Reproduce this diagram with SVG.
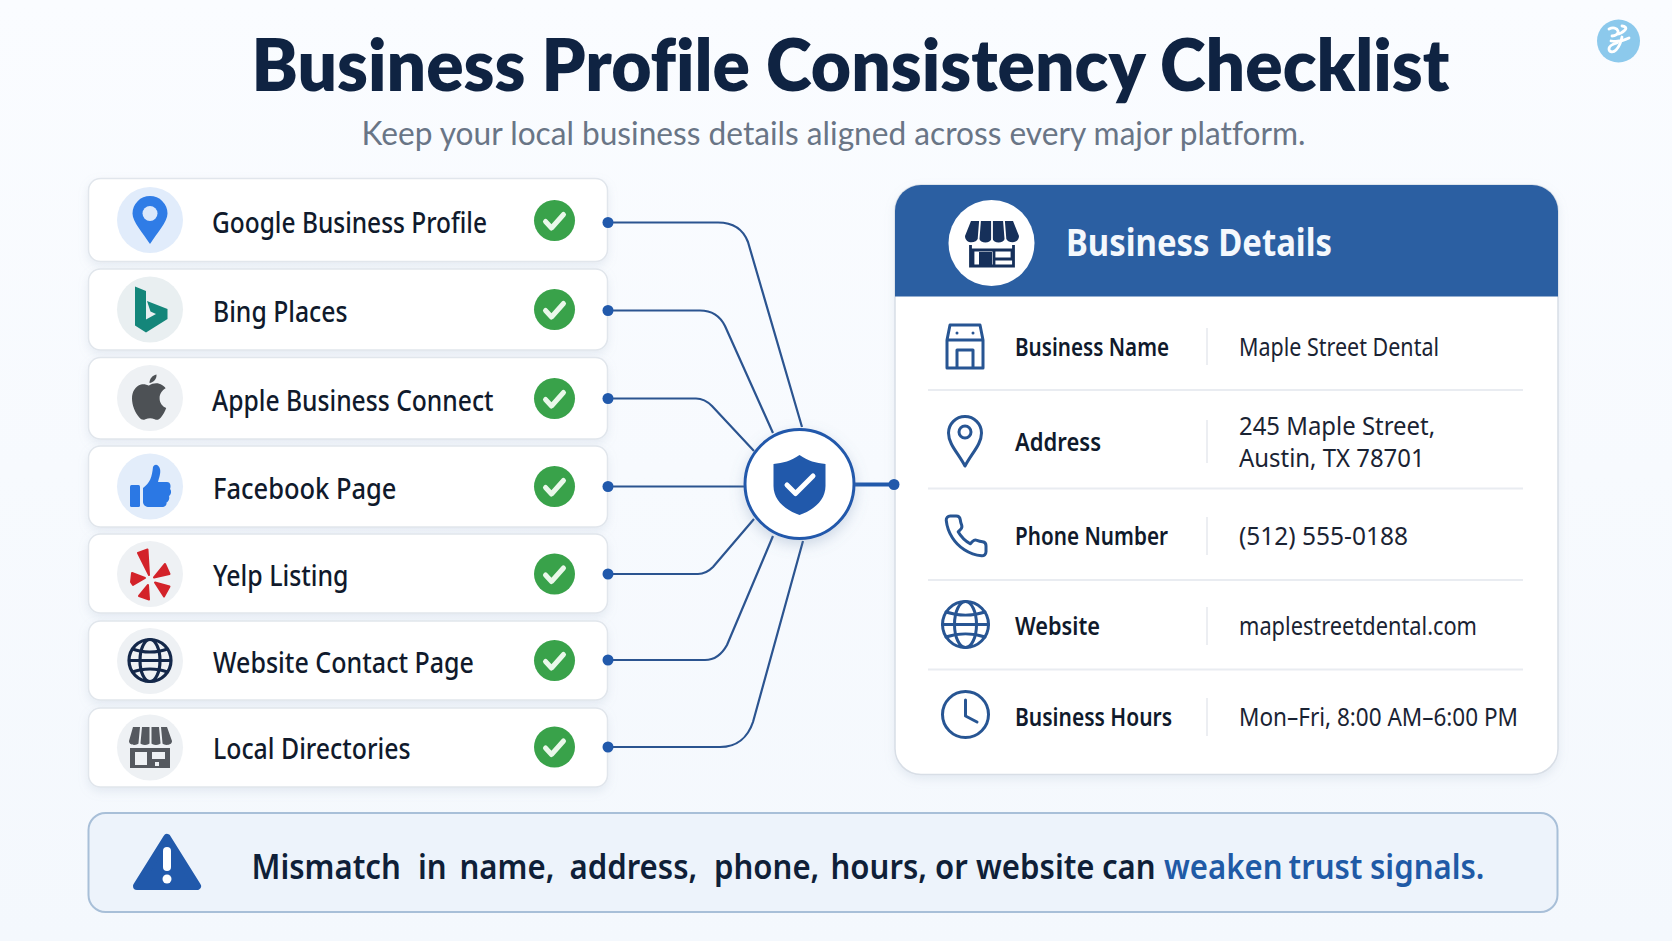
<svg xmlns="http://www.w3.org/2000/svg" width="1672" height="941" viewBox="0 0 1672 941">
<style>
text{font-family:"Noto Sans","Liberation Sans",sans-serif}
.title{font-family:Lato,"Liberation Sans",sans-serif;font-size:71px;font-weight:800;font-variant-ligatures:none;fill:#0f2342}
.sub{font-family:Lato,"Liberation Sans",sans-serif;font-size:33px;font-weight:400;font-variant-ligatures:none;fill:#697586}
.row{font-size:28px;font-weight:500;fill:#101a2c}
.card{fill:#fff;stroke:#e1e6ec;stroke-width:1.500;filter:url(#sh)}
.ok{fill:#39a24a}
.okm{fill:none;stroke:#eaf8ea;stroke-width:5;stroke-linecap:round;stroke-linejoin:round}
.bub{fill:#eef1f4}
.lab{font-size:25.500px;font-weight:600;fill:#101a2c}
.val{font-size:26px;fill:#1a2333}
.ic{fill:none;stroke:#275593;stroke-width:3;stroke-linecap:round;stroke-linejoin:round}
.sep{stroke:#e9ecf1;stroke-width:2}
.div{stroke:#e6e9ee;stroke-width:1.500}
.con{fill:none;stroke:#2b5490;stroke-width:2.200}
.dot{fill:#2159ab}
.ban{font-size:33.500px;font-weight:600;fill:#0f1f38}
.hl{fill:#1f5aa6}
</style>
<defs>
<linearGradient id="bg" x1="0" y1="0" x2="0" y2="1"><stop offset="0" stop-color="#fafcff"/><stop offset="1" stop-color="#f4f8fd"/></linearGradient>
<filter id="sh" x="-10%" y="-20%" width="120%" height="150%"><feDropShadow dx="0" dy="4" stdDeviation="5" flood-color="#8fa2ba" flood-opacity=".18"/></filter>
<filter id="sh2" x="-30%" y="-30%" width="160%" height="170%"><feDropShadow dx="0" dy="5" stdDeviation="7" flood-color="#6f88aa" flood-opacity=".3"/></filter>
<path id="chk" d="M-9 1l6 6.500L9-6"/>
</defs>
<rect width="1672" height="941" fill="url(#bg)"/>
<g id="heading">
<text class="title" x="251.500" y="91" textLength="1198" lengthAdjust="spacingAndGlyphs">Business Profile Consistency Checklist</text>
<text class="sub" x="361.500" y="145" textLength="944" lengthAdjust="spacingAndGlyphs">Keep your local business details aligned across every major platform.</text>
</g>
<g id="logo">
<circle cx="1618.500" cy="41" r="21.500" fill="#8cc9ec"/>
<path d="M1609 29c4-2 8-1 9 2s-3 5-6 5M1622 26c3 0 5 2 3 4s-6 4-8 4M1611 41c5 1 12 0 18-3M1622 37c-1 5-3 10-6 13-3 3-7 2-7-1s4-5 8-6" fill="none" stroke="#fff" stroke-width="2.800" stroke-linecap="round"/>
</g>
<g id="row-google">
<rect class="card" x="88.500" y="178.500" width="519" height="83" rx="12"/>
<circle cx="150" cy="220" r="33" fill="#e1ecfb"/>
<path d="M150 244C143 233 132.500 222 132.500 213.500A17.500 17.500 0 0 1 167.500 213.500C167.500 222 157 233 150 244Z" fill="#2f7ce6"/>
<circle cx="150" cy="213.500" r="7.500" fill="#dbe8fb"/>
<text class="row" x="212" y="233" textLength="275" lengthAdjust="spacingAndGlyphs">Google Business Profile</text>
<circle class="ok" cx="554.500" cy="220.500" r="20.500"/><use href="#chk" x="554.500" y="220.500" class="okm"/>
</g>
<g id="row-bing">
<rect class="card" x="88.500" y="269" width="519" height="81" rx="12"/>
<circle cx="150" cy="309.500" r="33" fill="#e9eff1"/>
<path d="M135 286.500L146 291V319.500L156 314L150.500 311.500L147 301L167.500 309V319L146 332.500L135 325.500Z" fill="#14867a"/>
<text class="row" x="213" y="322" textLength="134.500" lengthAdjust="spacingAndGlyphs">Bing Places</text>
<circle class="ok" cx="554.500" cy="309.500" r="20.500"/><use href="#chk" x="554.500" y="309.500" class="okm"/>
</g>
<g id="row-apple">
<rect class="card" x="88.500" y="357.500" width="519" height="81.500" rx="12"/>
<circle class="bub" cx="150" cy="398" r="33"/>
<path d="M150.500 385.500c4-2.500 9-3 13-.5 1.500.9 2.800 2 3.600 3.200-4.500 2.800-6 6.200-6 10 0 4.500 2.500 8 6.600 9.800-1.200 3.500-3 6.800-5.300 9.500-2 2.400-4 2.800-6.200 1.800-3.300-1.500-6-1.500-9.300 0-2.200 1-4.200.6-6.100-1.700-4.200-5-7.300-12-7.300-19 0-6.500 3.200-12.500 9-14 3.100-.8 5.500.1 7.300.9zM151 383c0-4 2.500-7.500 7-8.500.3 4.500-2.800 8-7 8.500z" fill="#4d5155" transform="translate(-1.500 0)"/>
<text class="row" x="212" y="411" textLength="281.500" lengthAdjust="spacingAndGlyphs">Apple Business Connect</text>
<circle class="ok" cx="554.500" cy="398.500" r="20.500"/><use href="#chk" x="554.500" y="398.500" class="okm"/>
</g>
<g id="row-facebook">
<rect class="card" x="88.500" y="446" width="519" height="81" rx="12"/>
<circle cx="150" cy="486.500" r="33" fill="#e3edfa"/>
<rect x="130" y="485" width="10" height="22" rx="1.500" fill="#2b78e4"/>
<path d="M143 488C150 483 152 477 153 467C155 463 159 465 160 469C161 473 159 478 158 482H167C171 482 171 487 170 489C172 491 171 495 169 496C170 499 168 502 166.500 502.500C167 505 165 507 162 507H149C146 507 143 505 143 502Z" fill="#2b78e4"/>
<text class="row" x="213" y="499" textLength="183.500" lengthAdjust="spacingAndGlyphs">Facebook Page</text>
<circle class="ok" cx="554.500" cy="486.500" r="20.500"/><use href="#chk" x="554.500" y="486.500" class="okm"/>
</g>
<g id="row-yelp">
<rect class="card" x="88.500" y="534" width="519" height="79" rx="12"/>
<circle class="bub" cx="150" cy="574" r="33"/>
<g fill="#d3232a" stroke="#d3232a" stroke-width="2" stroke-linejoin="round">
<path d="M138 553L147.500 549.500L149 575Z"/>
<path d="M145 578L132 573L131 582L133 585Z"/>
<path d="M165 564L169.500 574L154 577.500Z"/>
<path d="M155 582.500L169.500 586.500L164 596.500Z"/>
<path d="M148 585L149 599.500L139 596Z"/>
</g>
<text class="row" x="213" y="586" textLength="135.500" lengthAdjust="spacingAndGlyphs">Yelp Listing</text>
<circle class="ok" cx="554.500" cy="574" r="20.500"/><use href="#chk" x="554.500" y="574" class="okm"/>
</g>
<g id="row-website">
<rect class="card" x="88.500" y="621" width="519" height="79" rx="12"/>
<circle class="bub" cx="150" cy="661" r="33"/>
<g fill="none" stroke="#14284a" stroke-width="3.200"><circle cx="150" cy="660.500" r="21"/><ellipse cx="150" cy="660.500" rx="10" ry="21"/><path d="M129 660.500H171M132.500 649C143 653 157 653 167.500 649M132.500 672C143 668 157 668 167.500 672"/></g>
<text class="row" x="213" y="672.500" textLength="261" lengthAdjust="spacingAndGlyphs">Website Contact Page</text>
<circle class="ok" cx="554.500" cy="660.500" r="20.500"/><use href="#chk" x="554.500" y="660.500" class="okm"/>
</g>
<g id="row-directories">
<rect class="card" x="88.500" y="708" width="519" height="79" rx="12"/>
<circle class="bub" cx="150" cy="747.500" r="33"/>
<path d="M133 727H167L172 741C172 746 163 746 161.500 742C160 746 152 746 150.500 742C149 746 141 746 139.500 742C138 746 129 746 129 741Z" fill="#55595f"/>
<path d="M141 727L139.500 743M150.500 727V743M160 727L161.500 743" stroke="#eef1f4" stroke-width="2"/>
<path d="M130 748H170V768H130ZM135 752V765H147V752ZM152 752V759H165V752Z" fill="#55595f" fill-rule="evenodd"/>
<rect x="155" y="762" width="4" height="4" fill="#eef1f4"/>
<text class="row" x="213" y="759" textLength="197.500" lengthAdjust="spacingAndGlyphs">Local Directories</text>
<circle class="ok" cx="554.500" cy="747" r="20.500"/><use href="#chk" x="554.500" y="747" class="okm"/>
</g>
<g id="business-details">
<rect x="895" y="185" width="663" height="589.500" rx="26" fill="#fff" stroke="#d8dee6" stroke-width="1.500" filter="url(#sh)"/>
<path d="M895 296.500V211A26 26 0 0 1 921 185H1532A26 26 0 0 1 1558 211V296.500Z" fill="#2b5fa2"/>
<circle cx="991.500" cy="243" r="43" fill="#fff"/>
<path d="M971 221H1013L1019 236C1019 244 1008 244 1005.500 238C1003 244 994 244 992 238C990 244 981 244 978.500 238C976 244 965 244 965 236Z" fill="#16305a"/>
<path d="M980 221L978.500 240M992 221V240M1004 221L1005.500 240" stroke="#fff" stroke-width="1.800"/>
<path d="M970.500 245V266H1013.500V245M973 250V266H994V250ZM994 250H1012V259H994Z" fill="none" stroke="#16305a" stroke-width="2.800"/>
<rect x="979" y="252" width="13" height="14" fill="#16305a"/>
<text x="1066" y="256" font-size="37" font-weight="700" fill="#f4f8fd" textLength="266" lengthAdjust="spacingAndGlyphs">Business Details</text>
<line class="sep" x1="928" y1="390" x2="1523" y2="390"/><line class="sep" x1="928" y1="488.500" x2="1523" y2="488.500"/><line class="sep" x1="928" y1="580" x2="1523" y2="580"/><line class="sep" x1="928" y1="669.500" x2="1523" y2="669.500"/>
<line class="div" x1="1207" y1="328" x2="1207" y2="365"/><line class="div" x1="1207" y1="420" x2="1207" y2="463"/><line class="div" x1="1207" y1="517" x2="1207" y2="555"/><line class="div" x1="1207" y1="607" x2="1207" y2="645"/><line class="div" x1="1207" y1="698" x2="1207" y2="736"/>
</g>
<g id="detail-name">
<path class="ic" d="M947 340L950 325H980L983 340M947 340V368H983V340M947 340H983M957 368V350H973V368"/>
<circle cx="957" cy="333" r="1.500" fill="#275593"/><circle cx="973" cy="333" r="1.500" fill="#275593"/>
<text class="lab" x="1015" y="356" textLength="154" lengthAdjust="spacingAndGlyphs">Business Name</text>
<text class="val" x="1239" y="356" textLength="200" lengthAdjust="spacingAndGlyphs">Maple Street Dental</text>
</g>
<g id="detail-address">
<path class="ic" d="M965 466C958 453 948.500 444 948.500 433A16.500 16.500 0 0 1 981.500 433C981.500 444 972 453 965 466Z"/><circle class="ic" cx="965" cy="432" r="6"/>
<text class="lab" x="1015" y="451" textLength="86" lengthAdjust="spacingAndGlyphs">Address</text>
<text class="val" transform="translate(1239 0) scale(.92 1)"><tspan x="0" y="435">245 Maple Street,</tspan><tspan x="0" y="467">Austin, TX 78701</tspan></text>
</g>
<g id="detail-phone">
<path class="ic" transform="translate(942 512) scale(2)" style="stroke-width:1.500" d="M22 16.920v3a2 2 0 0 1-2.180 2 19.790 19.790 0 0 1-8.630-3.070 19.500 19.500 0 0 1-6-6 19.790 19.790 0 0 1-3.070-8.670A2 2 0 0 1 4.110 2h3a2 2 0 0 1 2 1.720 12.840 12.840 0 0 0 .7 2.810 2 2 0 0 1-.45 2.110L8.090 9.910a16 16 0 0 0 6 6l1.270-1.270a2 2 0 0 1 2.110-.45 12.840 12.840 0 0 0 2.810.7A2 2 0 0 1 22 16.920z"/>
<text class="lab" x="1015" y="545" textLength="153" lengthAdjust="spacingAndGlyphs">Phone Number</text>
<text class="val" x="1239" y="545" textLength="169" lengthAdjust="spacingAndGlyphs">(512) 555-0188</text>
</g>
<g id="detail-website">
<g class="ic"><circle cx="965.500" cy="624.500" r="23"/><ellipse cx="965.500" cy="624.500" rx="11" ry="23"/><path d="M942.500 624.500H988.500M946 612C958 616 973 616 985 612M946 637C958 633 973 633 985 637"/></g>
<text class="lab" x="1015" y="634.500" textLength="85" lengthAdjust="spacingAndGlyphs">Website</text>
<text class="val" x="1239" y="634.500" textLength="238" lengthAdjust="spacingAndGlyphs">maplestreetdental.com</text>
</g>
<g id="detail-hours">
<circle class="ic" cx="965.500" cy="714.500" r="23"/><path class="ic" d="M965.500 700V716L977 722"/>
<text class="lab" x="1015" y="726" textLength="157" lengthAdjust="spacingAndGlyphs">Business Hours</text>
<text class="val" x="1239" y="726" textLength="279" lengthAdjust="spacingAndGlyphs">Mon–Fri, 8:00 AM–6:00 PM</text>
</g>
<g id="connectors">
<path class="con" d="M608 222.500H718C733 222.500 743 229 748 242L802 427"/>
<path class="con" d="M608 310.500H700C711 310.500 720 316 725 326L773 433"/>
<path class="con" d="M608 398.500H696C703 398.500 708 402 712 406L754 451"/>
<path class="con" d="M608 486.500H744"/>
<path class="con" d="M608 574H698C705 574 709 571 713 567L754 519"/>
<path class="con" d="M608 660H705C715 660 722 654 727 645L773 536"/>
<path class="con" d="M608 747H720C737 747 748 737 753 722L803 541"/>
<path d="M855 484.500H894" fill="none" stroke="#2159ab" stroke-width="4"/>
<circle class="dot" cx="608" cy="222.500" r="5.500"/><circle class="dot" cx="608" cy="310.500" r="5.500"/><circle class="dot" cx="608" cy="398.500" r="5.500"/><circle class="dot" cx="608" cy="486.500" r="5.500"/><circle class="dot" cx="608" cy="574" r="5.500"/><circle class="dot" cx="608" cy="660" r="5.500"/><circle class="dot" cx="608" cy="747" r="5.500"/><circle class="dot" cx="894" cy="484.500" r="5.500"/>
</g>
<g id="hub">
<circle cx="799.500" cy="484" r="54.500" fill="#fff" stroke="#2159ab" stroke-width="3" filter="url(#sh2)"/>
<path d="M799.500 455C808 461 816 463 825.500 464V486C825.500 500 814 510 799.500 515C785 510 773.500 500 773.500 486V464C783 463 791 461 799.500 455Z" fill="#2159ab"/>
<path d="M787 485l8.500 8.500L813 476" fill="none" stroke="#fff" stroke-width="5" stroke-linecap="round" stroke-linejoin="round"/>
</g>
<g id="warning">
<rect x="88.500" y="813" width="1469" height="99" rx="17" fill="#edf3fb" stroke="#a8bfd8" stroke-width="2"/>
<path d="M167 838L197 886H137Z" fill="#2159ab" stroke="#2159ab" stroke-width="8" stroke-linejoin="round"/>
<rect x="163" y="847" width="8" height="24" rx="4" fill="#fff"/><circle cx="167" cy="879" r="4.500" fill="#fff"/>
<text class="ban" y="879" transform="scale(.93 1)"><tspan x="270.400">Mismatch</tspan> <tspan x="449.500">in</tspan> <tspan x="494.100">name,</tspan> <tspan x="612.400">address,</tspan> <tspan x="767.700">phone,</tspan> <tspan x="893">hours,</tspan> <tspan x="1005.400">or</tspan> <tspan x="1049.500">website</tspan> <tspan x="1184.900">can</tspan> <tspan x="1251.600" class="hl">weaken</tspan> <tspan x="1385.500" class="hl">trust</tspan> <tspan x="1473.100" class="hl">signals.</tspan></text>
</g>
</svg>
